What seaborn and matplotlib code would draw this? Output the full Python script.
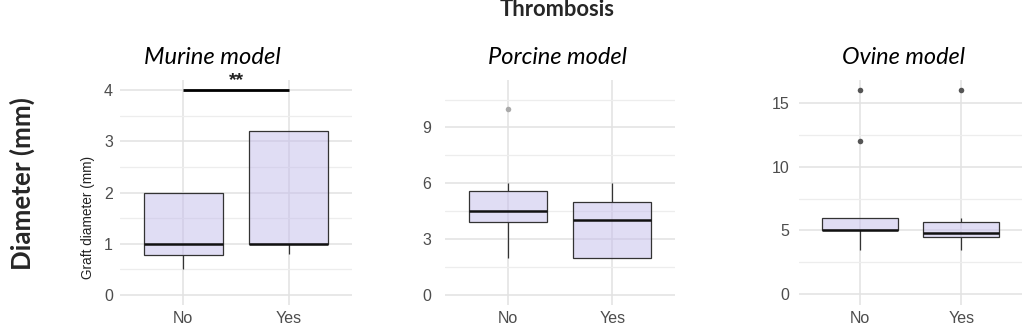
import numpy as np
import pandas as pd
import seaborn as sns
import matplotlib.pyplot as plt
from matplotlib.colors import to_rgba
from matplotlib.ticker import MultipleLocator

# ---------------- data ----------------
categories = ["No", "Yes"]
panel_titles = ["Murine model", "Porcine model", "Ovine model"]

murine_no = [0.5, 0.78, 1.0, 2.0, 2.0]
murine_yes = [0.8, 1.0, 1.0, 3.2, 3.2]
porcine_no = [2.0, 3.0, 3.9, 4.2, 4.5, 5.0, 5.6, 6.0, 10.0]
porcine_yes = [2.0, 2.0, 4.0, 5.0, 6.0]
ovine_no = [3.5, 5.0, 5.0, 5.0, 5.0, 6.0, 6.0, 12.0, 16.0]
ovine_yes = [3.5, 4.5, 4.5, 4.6, 4.8, 5.0, 5.7, 6.0, 16.0]

murine_ticks = [0, 1, 2, 3, 4]
porcine_ticks = [0, 3, 6, 9]
ovine_ticks = [0, 5, 10, 15]

sig_label = "**"
sig_y = 4.0

# ---------------- style ----------------
sns.set_theme(style="white")
plt.rcParams["font.family"] = ["Liberation Sans", "DejaVu Sans"]

fig = plt.figure(figsize=(10.24, 3.34), dpi=100)
renderer = fig.canvas.get_renderer()

H = 334.0
W = 1024.0
top_px, bot_px = 80, 305
rects = [(120, 232), (445, 230), (799, 223)]
ylims = [(-0.2, 4.2), (-0.55, 11.55), (-0.85, 16.8)]
minor_steps = [0.5, 1.5, 2.5]
tick_sets = [murine_ticks, porcine_ticks, ovine_ticks]
datasets = [(murine_no, murine_yes), (porcine_no, porcine_yes), (ovine_no, ovine_yes)]
flier_colors = ["#555555", "#AAAAAA", "#555555"]
ypads = [5, 10, 7]

box_fill = "#C3BCEB"
edge_col = "#333333"
title_x = [212, 557, 903]
title_w = [137, 139, 123]


def fit(t, target, dim="w"):
    for _ in range(3):
        bb = t.get_window_extent(renderer)
        cur = bb.width if dim == "w" else bb.height
        if cur > 0:
            t.set_fontsize(t.get_fontsize() * target / cur)


# measure tick font size needed for "Yes" to be ~26 px wide
probe = fig.text(0, 0, "Yes", fontsize=10)
fit(probe, 26)
tick_fs = probe.get_fontsize()
probe.remove()

axes = []
for i in range(3):
    x0, w = rects[i]
    ax = fig.add_axes([x0 / W, 1 - bot_px / H, w / W, (bot_px - top_px) / H])
    axes.append(ax)
    no, yes = datasets[i]
    df = pd.DataFrame({
        "Thrombosis": ["No"] * len(no) + ["Yes"] * len(yes),
        "diameter": no + yes,
    })
    fc = flier_colors[i]
    sns.boxplot(
        data=df, x="Thrombosis", y="diameter", order=categories, ax=ax,
        width=0.75, color=box_fill, saturation=1, linecolor=edge_col,
        linewidth=0.9, showcaps=False,
        medianprops=dict(color="#111111", linewidth=1.8),
        whiskerprops=dict(color=edge_col, linewidth=0.9),
        flierprops=dict(marker="o", markersize=4, markerfacecolor=fc,
                        markeredgecolor=fc, markeredgewidth=0),
    )
    for p in ax.patches:
        p.set_facecolor(to_rgba(box_fill, 0.5))
        p.set_edgecolor(edge_col)

    ax.set_xlim(-0.6, 1.6)
    ax.set_ylim(*ylims[i])
    ax.set_yticks(tick_sets[i])
    ax.yaxis.set_minor_locator(MultipleLocator(minor_steps[i]))
    ax.set_axisbelow(True)
    ax.grid(which="major", axis="both", color="#E2E2E2", linewidth=1.1)
    ax.grid(which="minor", axis="y", color="#EDEDED", linewidth=0.9)
    for s in ax.spines.values():
        s.set_visible(False)
    ax.tick_params(axis="both", which="both", length=0, labelsize=tick_fs,
                   labelcolor="#4D4D4D")
    ax.tick_params(axis="y", pad=ypads[i])
    ax.tick_params(axis="x", pad=4)
    ax.set_xlabel("")
    ax.set_ylabel("")

    tt = fig.text(title_x[i] / W, 1 - 57 / H, panel_titles[i], ha="center",
                  va="center", fontsize=14, style="italic",
                  family=["Lato", "DejaVu Sans"], color="black")
    fit(tt, title_w[i])

# significance bar on murine panel
ax0 = axes[0]
ax0.plot([0, 1], [sig_y, sig_y], color="black", linewidth=2, solid_capstyle="butt",
         zorder=5)
st = ax0.annotate(sig_label, xy=(0.5, sig_y), xytext=(0, 1), textcoords="offset points",
                  ha="center", va="bottom", fontsize=10, fontweight="bold",
                  color="#222222", annotation_clip=False)
fit(st, 15)

fig.text(88 / W, 1 - 217 / H, "Graft diameter (mm)", ha="center",
         va="center", rotation=90, fontsize=9.8, color="#222222")

t1 = fig.text(557 / W, 1 - 10 / H, "Thrombosis", ha="center", va="center",
              fontsize=12, fontweight="bold", family=["Lato", "DejaVu Sans"])
fit(t1, 115)
t2 = fig.text(22 / W, 1 - 184 / H, "Diameter (mm)", ha="center", va="center",
              rotation=90, fontsize=17, fontweight="bold",
              family=["Lato", "DejaVu Sans"])
fit(t2, 172, dim="h")

fig.savefig("out.png", dpi=100)
